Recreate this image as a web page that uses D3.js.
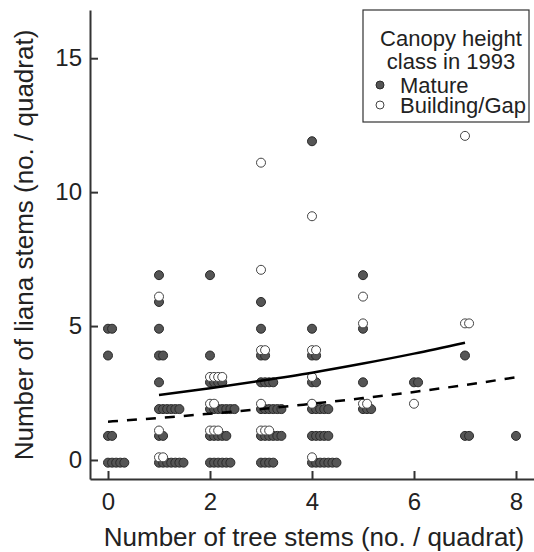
<!DOCTYPE html>
<html>
<head>
<meta charset="utf-8">
<script src="https://cdn.jsdelivr.net/npm/d3@7"></script>
<style>
	body { margin: 0; background: #fff; }
	svg { font-family: 'Liberation Sans', Arial, sans-serif; }
	.axis path, .axis line { stroke: #333; stroke-width: 2; }
	.axis text { font-size: 24px; fill: #222; }
</style>
</head>
<body>
<svg id="liana-chart" width="534" height="552"></svg>
<script>
// Mature canopy quadrats: tree stems, liana stems, number of quadrats with that pair
var matureTrees  = [0, 0, 0, 0, 1, 1, 1, 1, 1, 1, 1, 1, 2, 2, 2, 2, 2, 2, 3, 3, 3, 3, 3, 3, 3, 4, 4, 4, 4, 4, 4, 4, 5, 5, 5, 5, 6, 7, 7, 8];
var matureLianas = [5, 4, 1, 0, 7, 6, 5, 4, 3, 2, 1, 0, 7, 4, 3, 2, 1, 0, 6, 5, 4, 3, 2, 1, 0, 12, 5, 4, 3, 2, 1, 0, 7, 5, 3, 2, 3, 4, 1, 1];
var matureCount  = [2, 1, 2, 5, 1, 1, 1, 2, 1, 6, 2, 7, 1, 1, 4, 7, 5, 6, 1, 1, 2, 4, 6, 6, 4, 1, 1, 2, 2, 5, 5, 7, 1, 1, 1, 3, 2, 1, 2, 1];

// Building/Gap quadrats
var gapTrees  = [1, 1, 1, 2, 2, 2, 3, 3, 3, 3, 3, 4, 4, 4, 4, 4, 5, 5, 5, 6, 7, 7];
var gapLianas = [6, 1, 0, 3, 2, 1, 11, 7, 4, 2, 1, 9, 4, 3, 2, 0, 6, 5, 2, 2, 12, 5];
var gapCount  = [1, 1, 2, 4, 2, 3, 1, 1, 2, 1, 3, 1, 2, 1, 1, 1, 1, 1, 2, 1, 1, 2];

// fitted curves
var matureFitX = [1, 2, 3, 4, 5, 6, 7];
var matureFitY = [2.43, 2.68, 2.96, 3.26, 3.60, 3.97, 4.38];
var gapFitX = [0, 1, 2, 3, 4, 5, 6, 7, 8];
var gapFitY = [1.43, 1.57, 1.73, 1.90, 2.10, 2.31, 2.54, 2.80, 3.09];

var xTicks = [0, 2, 4, 6, 8];
var yTicks = [0, 5, 10, 15];

var legendTitle = ['Canopy height', 'class in 1993'];
var legendLabels = ['Mature', 'Building/Gap'];

(function() {

	'use strict';

	var svg = d3.select('#liana-chart'),
		stackStep = 0.08,	// horizontal shift for repeated points
		groupShift = 0.1,	// mature drawn a little low, gaps a little high
		radius = 4.5;

	var xScale = d3.scaleLinear()
			.domain([-0.353, 8.353])
			.range([90, 534]);

	var yScale = d3.scaleLinear()
			.domain([-0.71, 16.8])
			.range([479, 10]);

	// turn counts into one point per quadrat, stacked sideways
	var expand = function(trees, lianas, counts, dy) {
		var pts = [];
		trees.forEach(function(t, i) {
			for (var k = 0; k < counts[i]; k++) {
				pts.push({ x: t + k * stackStep, y: lianas[i] + dy });
			}
		});
		return pts;
	};

	var maturePts = expand(matureTrees, matureLianas, matureCount, -groupShift),
		gapPts = expand(gapTrees, gapLianas, gapCount, groupShift);

	// axes
	svg.append('g')
		.attr('class', 'axis')
		.attr('transform', 'translate(0,479)')
		.call(d3.axisBottom(xScale).tickValues(xTicks).tickSizeInner(-8).tickSizeOuter(0).tickPadding(14))
		.selectAll('text')
		.attr('dy', '0.71em');

	svg.append('g')
		.attr('class', 'axis')
		.attr('transform', 'translate(90,0)')
		.call(d3.axisLeft(yScale).tickValues(yTicks).tickSizeInner(-8).tickSizeOuter(0).tickPadding(8));

	svg.selectAll('.axis').attr('font-family', null).attr('font-size', null);

	// points
	svg.append('g')
		.selectAll('circle')
		.data(maturePts)
		.enter()
		.append('circle')
		.attr('cx', function(d) { return xScale(d.x); })
		.attr('cy', function(d) { return yScale(d.y); })
		.attr('r', radius)
		.attr('fill', '#555')
		.attr('stroke', '#2a2a2a')
		.attr('stroke-width', 1);

	svg.append('g')
		.selectAll('circle')
		.data(gapPts)
		.enter()
		.append('circle')
		.attr('cx', function(d) { return xScale(d.x); })
		.attr('cy', function(d) { return yScale(d.y); })
		.attr('r', radius)
		.attr('fill', '#fff')
		.attr('stroke', '#444')
		.attr('stroke-width', 1);

	// fitted lines
	var line = d3.line()
		.x(function(d) { return xScale(d[0]); })
		.y(function(d) { return yScale(d[1]); })
		.curve(d3.curveMonotoneX);

	svg.append('path')
		.datum(d3.zip(matureFitX, matureFitY))
		.attr('d', line)
		.attr('fill', 'none')
		.attr('stroke', '#000')
		.attr('stroke-width', 2.5);

	svg.append('path')
		.datum(d3.zip(gapFitX, gapFitY))
		.attr('d', line)
		.attr('fill', 'none')
		.attr('stroke', '#000')
		.attr('stroke-width', 2.5)
		.attr('stroke-dasharray', '10,9');

	// axis titles
	svg.append('text')
		.attr('x', 314)
		.attr('y', 546)
		.attr('text-anchor', 'middle')
		.attr('font-size', 26)
		.attr('fill', '#222')
		.text('Number of tree stems (no. / quadrat)');

	svg.append('text')
		.attr('transform', 'translate(33,245) rotate(-90)')
		.attr('text-anchor', 'middle')
		.attr('font-size', 26)
		.attr('fill', '#222')
		.text('Number of liana stems (no. / quadrat)');

	// legend
	var legend = svg.append('g');

	legend.append('rect')
		.attr('x', 363)
		.attr('y', 10)
		.attr('width', 166)
		.attr('height', 112)
		.attr('fill', '#fff')
		.attr('stroke', '#333')
		.attr('stroke-width', 1.2);

	legend.selectAll('.legend-title')
		.data(legendTitle)
		.enter()
		.append('text')
		.attr('x', 451)
		.attr('y', function(d, i) { return 46 + i * 23; })
		.attr('text-anchor', 'middle')
		.attr('font-size', 22)
		.attr('fill', '#222')
		.text(function(d) { return d; });

	var items = legend.selectAll('.legend-item')
		.data(legendLabels)
		.enter()
		.append('g')
		.attr('transform', function(d, i) { return 'translate(0,' + (85 + i * 20) + ')'; });

	items.append('circle')
		.attr('cx', 380)
		.attr('cy', 0)
		.attr('r', 4)
		.attr('fill', function(d, i) { return i === 0 ? '#555' : '#fff'; })
		.attr('stroke', function(d, i) { return i === 0 ? '#2a2a2a' : '#444'; });

	items.append('text')
		.attr('x', 400)
		.attr('y', 8)
		.attr('font-size', 22)
		.attr('fill', '#222')
		.text(function(d) { return d; });

})();
</script>
</body>
</html>
